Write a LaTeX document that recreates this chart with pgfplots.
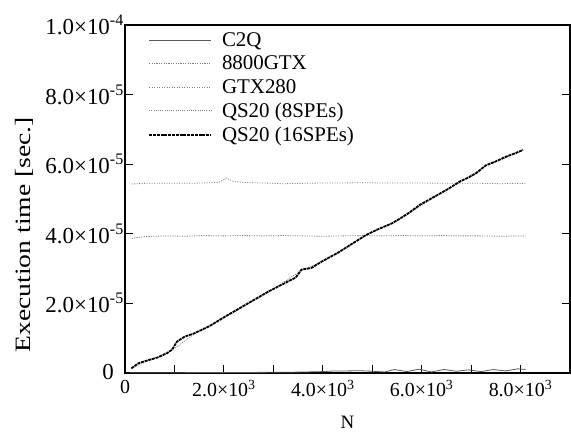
\documentclass[border=0pt]{standalone}
\usepackage{fontspec}
\setmainfont{Liberation Serif}
\usepackage{pgfplots}
\pgfplotsset{compat=1.18}
\begin{document}
\begin{tikzpicture}
\begin{axis}[
  scale only axis, width=445bp, height=348bp,
  xmin=0, xmax=9000, ymin=0, ymax=0.0001,
  axis line style={line width=1.5bp},
  tick style={black, line width=1bp},
  major tick length=8bp, minor tick length=8bp,
  tick align=inside,
  xtick={0,2000,4000,6000,8000},
  minor xtick={1000,3000,5000,7000},
  xticklabels={0, 2.0×10\textsuperscript{3}, 4.0×10\textsuperscript{3}, 6.0×10\textsuperscript{3}, 8.0×10\textsuperscript{3}},
  xtick pos=bottom,
  ytick={0,0.00002,0.00004,0.00006,0.00008,0.0001},
  yticklabels={\raisebox{3bp}{0}\kern10bp\null, 2.0×10\textsuperscript{-5}, 4.0×10\textsuperscript{-5}, 6.0×10\textsuperscript{-5}, 8.0×10\textsuperscript{-5}, 1.0×10\textsuperscript{-4}},
  ytick pos=both,
  scaled y ticks=false, scaled x ticks=false,
  xticklabel style={font=\fontsize{20}{22}\selectfont, inner sep=2bp, yshift=-5bp},
  yticklabel style={font=\fontsize{23}{25}\selectfont, inner sep=1bp},
  xlabel={N},
  xlabel style={font=\fontsize{19}{21}\selectfont, at={(rel axis cs:0.5,-0.141)}, anchor=center},
  ylabel={\scalebox{1.26}[1]{Execution time [sec.]}},
  ylabel style={font=\fontsize{22}{24}\selectfont, at={(rel axis cs:-0.227,0.397)}, anchor=center},
  legend style={at={(rel axis cs:0.045,0.99)}, anchor=north west, draw=none, fill=none,
    font=\fontsize{21}{23}\selectfont, row sep=4bp,
    nodes={inner sep=2bp}},
  legend cell align=left,
  legend image code/.code={\draw[#1] (0bp,0bp) -- (62bp,0bp); \path (70bp,0bp);},
]
\path (rel axis cs:0,0) coordinate (O);
% C2Q
\addplot[gray!70!black, line width=0.8bp] coordinates {
(100,0.05e-6) (600,0.1e-6) (1200,0.1e-6) (1800,0.15e-6) (2400,0.15e-6) (3000,0.2e-6) (3500,0.25e-6)
(4000,0.4e-6) (4250,0.6e-6) (4500,0.6e-6) (4750,0.65e-6) (5000,0.5e-6) (5250,0.3e-6) (5450,1.0e-6)
(5700,0.4e-6) (5950,1.1e-6) (6200,0.3e-6) (6450,1.0e-6) (6700,0.5e-6) (6950,0.9e-6) (7200,0.4e-6)
(7450,1.0e-6) (7700,0.6e-6) (7950,1.2e-6) (8100,1.0e-6)
};
\addlegendentry{C2Q}
% 8800GTX
\addplot[gray, line width=0.8bp, dash pattern=on 1.2bp off 1.2bp] coordinates {
(135,3.87e-5) (400,3.92e-5) (800,3.94e-5) (1200,3.93e-5) (1600,3.95e-5) (2000,3.94e-5) (2400,3.95e-5)
(2800,3.94e-5) (3200,3.95e-5) (3600,3.94e-5) (4000,3.93e-5) (4400,3.94e-5) (4800,3.95e-5) (5200,3.94e-5)
(5600,3.95e-5) (6000,3.94e-5) (6400,3.95e-5) (6800,3.94e-5) (7200,3.94e-5) (7600,3.93e-5) (8100,3.94e-5)
};
\addlegendentry{8800GTX}
% GTX280
\addplot[gray, line width=0.8bp, dash pattern=on 1bp off 1.5bp] coordinates {
(135,5.43e-5) (400,5.45e-5) (800,5.45e-5) (1200,5.45e-5) (1600,5.46e-5) (1900,5.48e-5) (2050,5.6e-5)
(2200,5.5e-5) (2500,5.47e-5) (2800,5.46e-5) (3200,5.44e-5) (3600,5.45e-5) (4000,5.46e-5) (4400,5.46e-5)
(4800,5.47e-5) (5200,5.46e-5) (5600,5.46e-5) (6000,5.46e-5) (6400,5.45e-5) (6800,5.45e-5) (7200,5.45e-5)
(7600,5.44e-5) (8100,5.45e-5)
};
\addlegendentry{GTX280}
% QS20 8SPEs
\addplot[gray, line width=0.8bp, dash pattern=on 1bp off 1.2bp] coordinates {
(130,1.2e-6) (450,3.4e-6) (950,6.5e-6) (1400,1.12e-5) (2000,1.58e-5) (2900,2.32e-5) (3570,2.95e-5)
(4000,3.2e-5) (4880,3.95e-5) (5620,4.47e-5) (6200,5.0e-5) (6770,5.48e-5) (7300,5.95e-5) (8050,6.39e-5)
};
\addlegendentry{QS20 (8SPEs)}
% QS20 16SPEs
\addplot[black, line width=1.8bp, dash pattern=on 3bp off 0.8bp] coordinates {
(130,1.35e-6) (270,2.8e-6) (450,3.6e-6) (670,4.5e-6) (850,5.7e-6) (950,6.7e-6) (1050,9.0e-6)
(1200,1.04e-5) (1400,1.14e-5) (1700,1.34e-5) (2000,1.60e-5) (2400,1.93e-5) (2900,2.34e-5)
(3200,2.56e-5) (3450,2.74e-5) (3570,2.97e-5) (3770,3.02e-5) (4000,3.22e-5) (4300,3.45e-5)
(4600,3.72e-5) (4880,3.97e-5) (5100,4.12e-5) (5400,4.30e-5) (5620,4.49e-5) (5720,4.58e-5)
(5960,4.83e-5) (6200,5.02e-5) (6500,5.26e-5) (6770,5.50e-5) (6950,5.62e-5) (7100,5.74e-5)
(7300,5.97e-5) (7500,6.08e-5) (7710,6.22e-5) (7900,6.32e-5) (8050,6.41e-5)
};
\addlegendentry{QS20 (16SPEs)}
\end{axis}
\useasboundingbox ([shift={(-125bp,-59bp)}]O) rectangle ([shift={(446bp,373bp)}]O);
\end{tikzpicture}
\end{document}
